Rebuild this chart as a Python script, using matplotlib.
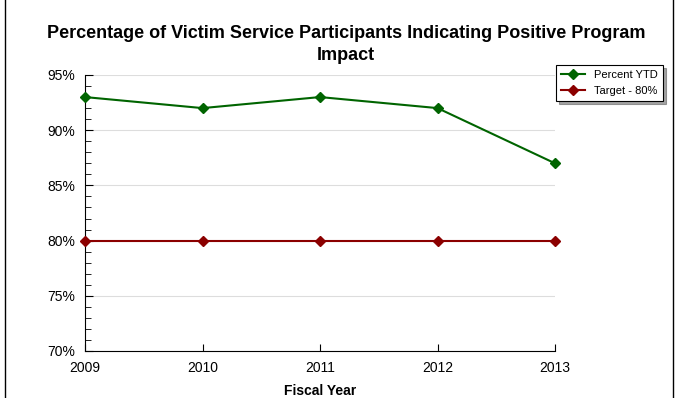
import matplotlib.pyplot as plt
from matplotlib.ticker import MultipleLocator, FuncFormatter

years = [2009, 2010, 2011, 2012, 2013]
percent_ytd = [93, 92, 93, 92, 87]
target = [80, 80, 80, 80, 80]

plt.rcParams['font.family'] = ['Liberation Sans', 'DejaVu Sans']

fig = plt.figure(figsize=(6.78, 3.98), dpi=100)
ax = fig.add_axes([0.1254, 0.1181, 0.6932, 0.6935])

ax.plot(years, percent_ytd, color='#006400', lw=1.5, marker='D', ms=5.5, label='Percent YTD', clip_on=False, zorder=3)
ax.plot(years, target, color='#8b0000', lw=1.5, marker='D', ms=5.5, label='Target - 80%', clip_on=False, zorder=3)

ax.set_xlim(2009, 2013)
ax.set_ylim(70, 95)
ax.set_xticks(years)
ax.yaxis.set_major_locator(MultipleLocator(5))
ax.yaxis.set_minor_locator(MultipleLocator(1))
ax.yaxis.set_major_formatter(FuncFormatter(lambda v, p: f'{v:.0f}%'))
ax.tick_params(axis='both', which='both', direction='in', labelsize=10, colors='black')
ax.tick_params(axis='y', which='major', length=6, pad=7)
ax.tick_params(axis='y', which='minor', length=4)
ax.tick_params(axis='x', length=5, pad=7)
ax.grid(axis='y', which='major', color='#dddddd', lw=0.8)
ax.set_axisbelow(True)
for s in ['top', 'right']:
    ax.spines[s].set_visible(False)

ax.set_xlabel('Fiscal Year', fontsize=10, fontweight='bold', labelpad=7)
fig.text(0.51, 0.937, 'Percentage of Victim Service Participants Indicating Positive Program\nImpact',
         ha='center', va='top', fontsize=13, fontweight='bold', linespacing=1.4)

leg = ax.legend(loc='upper left', bbox_to_anchor=(0.99, 1.055), fontsize=8, frameon=True,
                fancybox=False, shadow=True, edgecolor='black', borderpad=0.45, handlelength=2.2)
leg.get_frame().set_linewidth(0.8)

fig.add_artist(plt.Line2D([0.007, 0.007], [0, 1], color='black', lw=1))
fig.add_artist(plt.Line2D([0.992, 0.992], [0, 1], color='black', lw=1))

fig.savefig('out.png', dpi=100)
